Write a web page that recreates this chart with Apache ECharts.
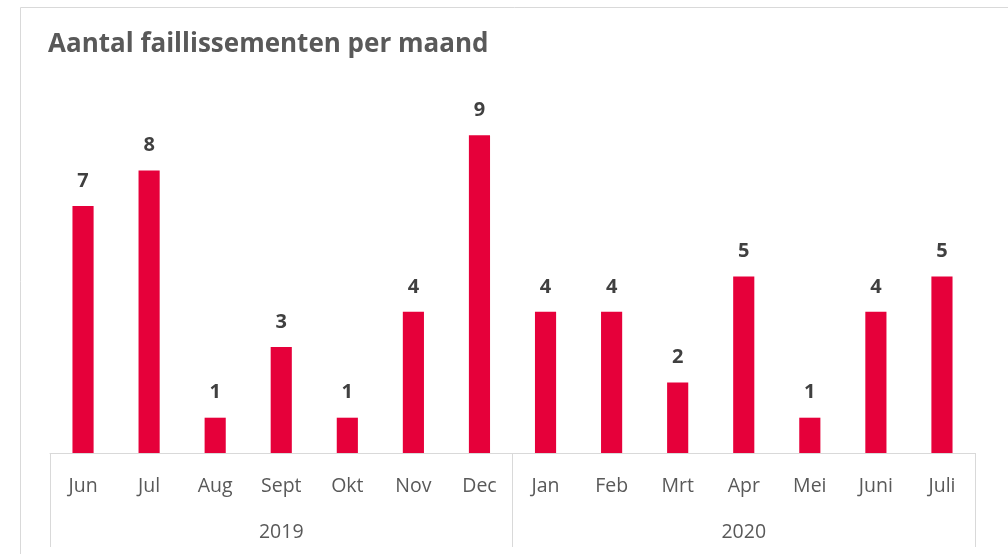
<!DOCTYPE html>
<html>
<head>
<meta charset="utf-8">
<script src="https://cdn.jsdelivr.net/npm/echarts@6/dist/echarts.min.js"></script>
<style>
  html, body { margin: 0; padding: 0; background: #fff; }
  #main { width: 1008px; height: 554px; }
</style>
</head>
<body>
<div id="main"></div>
<script>
var months = ['Jun', 'Jul', 'Aug', 'Sept', 'Okt', 'Nov', 'Dec', 'Jan', 'Feb', 'Mrt', 'Apr', 'Mei', 'Juni', 'Juli'];
var years = ['2019', '2020'];
var counts = [7, 8, 1, 3, 1, 4, 9, 4, 4, 2, 5, 1, 4, 5];

var font = '"Open Sans", sans-serif';

var myChart = echarts.init(document.getElementById('main'));
var option = {
    animation: false,
    title: {
        text: 'Aantal faillissementen per maand',
        left: 43,
        top: 27,
        textStyle: {
            fontFamily: font,
            fontSize: 26,
            fontWeight: 'bold',
            color: '#595959'
        }
    },
    graphic: [
        {
            type: 'rect',
            shape: { x: 20.5, y: 7.5, width: 1010, height: 560 },
            style: { fill: 'none', stroke: '#d9d9d9', lineWidth: 1 },
            silent: true
        }
    ],
    grid: { left: 50, right: 33, top: 100, bottom: 101 },
    xAxis: [
        {
            type: 'category',
            data: months,
            axisLine: { lineStyle: { color: '#d9d9d9', width: 1 } },
            axisTick: { show: false },
            axisLabel: {
                interval: 0,
                margin: 23,
                fontFamily: font,
                fontSize: 19.5,
                color: '#595959'
            }
        },
        {
            type: 'category',
            data: years,
            position: 'bottom',
            axisLine: { show: false },
            axisTick: {
                show: true,
                inside: false,
                length: 94,
                lineStyle: { color: '#d9d9d9', width: 1 }
            },
            axisLabel: {
                interval: 0,
                margin: 69,
                fontFamily: font,
                fontSize: 19.5,
                color: '#595959'
            }
        }
    ],
    yAxis: {
        type: 'value',
        min: 0,
        max: 10,
        show: false,
        splitLine: { show: false }
    },
    series: [
        {
            type: 'bar',
            data: counts,
            barWidth: '32%',
            itemStyle: { color: '#E6003A' },
            label: {
                show: true,
                position: 'top',
                distance: 15,
                fontFamily: font,
                fontSize: 20,
                fontWeight: 'bold',
                color: '#404040'
            }
        }
    ]
};
myChart.setOption(option);
</script>
</body>
</html>
